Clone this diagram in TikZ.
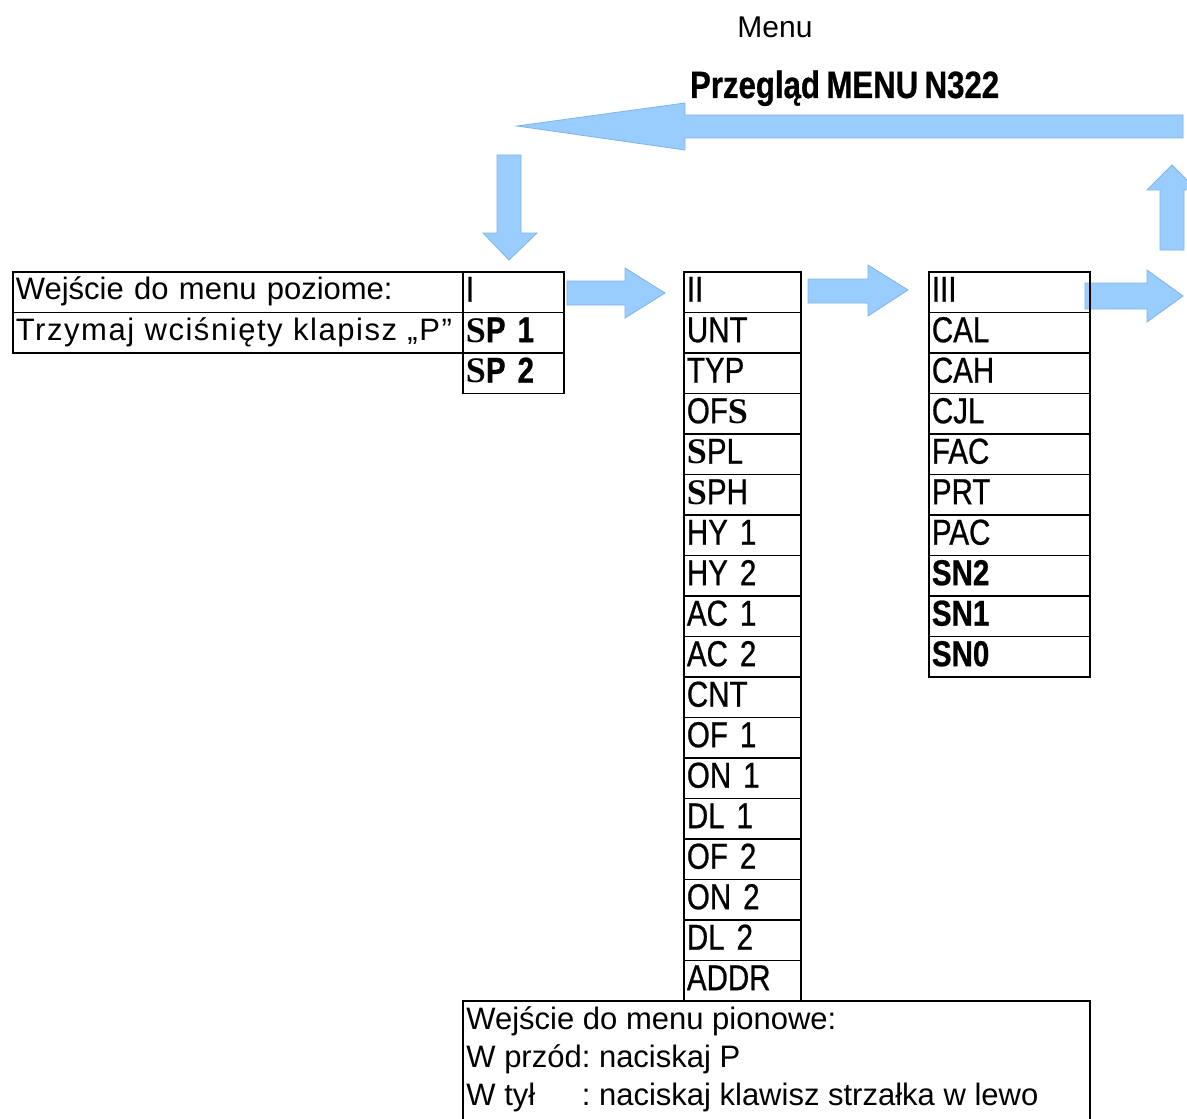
\documentclass[tikz,border=0pt]{standalone}
\usepackage{fontspec}
\setmainfont{Liberation Sans}
\newfontfamily\etroite[FakeStretch=0.82, FakeBold=0.7, WordSpace=0.75]{Liberation Sans}
\newfontfamily\empattement{Liberation Serif}
\newcommand{\grasS}{{\empattement\bfseries S}}
\frenchspacing

\definecolor{bleufleche}{HTML}{99CCFF}
\definecolor{bordfleche}{HTML}{80B3E6}

\tikzstyle{case}=[draw, rectangle, line width=0.9pt, anchor=north west, minimum height=20.25pt, inner xsep=1.5pt, inner ysep=0pt, align=left, text height=13pt, text depth=3.5pt]
\tikzstyle{texte}=[case, font=\fontsize{15.5}{18}\selectfont, text width=222pt, text height=11.5pt, text depth=3.8pt]
\tikzstyle{colonneI}=[case, text width=47.5pt, font=\etroite\fontsize{18}{20}\selectfont]
\tikzstyle{colonneII}=[case, text width=55.5pt, font=\etroite\fontsize{18}{20}\selectfont]
\tikzstyle{colonneIII}=[case, text width=77.5pt, font=\etroite\fontsize{18}{20}\selectfont]
\tikzstyle{fleche}=[fill=bleufleche, draw=bordfleche, line width=0.4pt]

\begin{document}
\begin{tikzpicture}[x=0.5pt, y=-0.5pt]

    \clip (0,0) rectangle (1187,1118);
    \fill[white] (0,0) rectangle (1187,1118);

    % titres
    \node[font=\fontsize{15}{18}\selectfont] (menu) at (775,27) {Menu};
    \node[anchor=base west, font=\etroite\bfseries\fontsize{19}{22}\selectfont] (przeglad) at (683,98) {Przegląd MENU N322};

    % fleches
    \filldraw[fleche] (1183,115) -- (685,115) -- (685,103) -- (517,126) -- (685,150) -- (685,138) -- (1183,138) -- cycle;
    \filldraw[fleche] (497,155) -- (521,155) -- (521,233) -- (537,233) -- (509,260) -- (483,233) -- (497,233) -- cycle;
    \filldraw[fleche] (1160,250) -- (1160,190) -- (1147,190) -- (1172,165) -- (1197,190) -- (1184,190) -- (1184,250) -- cycle;
    \filldraw[fleche] (567,281) -- (625,281) -- (625,268) -- (665,293) -- (625,318) -- (625,305) -- (567,305) -- cycle;
    \filldraw[fleche] (808,279) -- (868,279) -- (868,265) -- (908,290) -- (868,316) -- (868,303) -- (808,303) -- cycle;
    \filldraw[fleche] (1085,283) -- (1147,283) -- (1147,270) -- (1183,296) -- (1147,322) -- (1147,309) -- (1085,309) -- cycle;

    % tableau gauche
    \node[texte] (poziome) at (12,271) {Wejście do menu poziome:};
    \node[texte] (trzymaj) at (12,311.5) {\addfontfeature{LetterSpace=5}Trzymaj wciśnięty klapisz „P”};
    \foreach \lab [count=\i from 0] in {I, \textbf{\grasS P 1}, \textbf{\grasS P 2}}
        \node[colonneI] (cI-\i) at (462, 271+40.5*\i) {\lab};

    % colonne II
    \foreach \lab [count=\i from 0] in {II, UNT, TYP, OF\grasS, \grasS PL, \grasS PH, HY 1, HY 2, AC 1, AC 2, CNT, OF 1, ON 1, DL 1, OF 2, ON 2, DL 2, ADDR}
        \node[colonneII] (cII-\i) at (683, 271+40.5*\i) {\lab};

    % colonne III
    \foreach \lab [count=\i from 0] in {III, CAL, CAH, CJL, FAC, PRT, PAC, \textbf{SN2}, \textbf{SN1}, \textbf{SN0}}
        \node[colonneIII] (cIII-\i) at (928, 271+40.5*\i) {\lab};

    % consigne
    \node[draw, line width=0.9pt, anchor=north west, minimum width=313.5pt, minimum height=70pt, inner sep=0pt] (pionowe) at (462,1000) {};
    \node[anchor=north west, align=left, inner sep=0pt, font=\fontsize{15.5}{19}\selectfont] (consigne) at ([xshift=2pt, yshift=-3pt]pionowe.north west)
        {Wejście do menu pionowe:\\ W przód: naciskaj P\\ \rlap{W tył}\hphantom{W przód}: naciskaj klawisz strzałka w lewo};

\end{tikzpicture}
\end{document}
